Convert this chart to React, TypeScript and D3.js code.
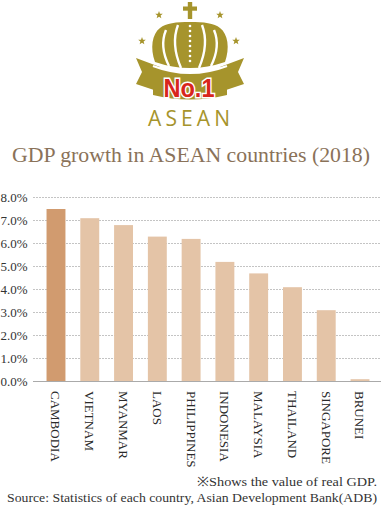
import React from "react";
import * as d3 from "d3";

const countries = ["CAMBODIA", "VIETNAM", "MYANMAR", "LAOS", "PHILIPPINES", "INDONESIA", "MALAYSIA", "THAILAND", "SINGAPORE", "BRUNEI"];
const growth = [7.5, 7.1, 6.8, 6.3, 6.2, 5.2, 4.7, 4.1, 3.1, 0.1];
const yTicks = [0, 1, 2, 3, 4, 5, 6, 7, 8];
const title = "GDP growth in ASEAN countries (2018)";
const note1 = "※Shows the value of real GDP.";
const note2 = "Source: Statistics of each country, Asian Development Bank(ADB)";

const GOLD = "#A6942C";
const SERIF = "'Liberation Serif', 'Times New Roman', serif";

function Star({ cx, cy, r }: { cx: number; cy: number; r: number }) {
  const pts: string[] = [];
  for (let i = 0; i < 10; i++) {
    const a = -Math.PI / 2 + (i * Math.PI) / 5;
    const rr = i % 2 === 0 ? r : r * 0.42;
    pts.push(`${cx + rr * Math.cos(a)},${cy + rr * Math.sin(a)}`);
  }
  return <polygon points={pts.join(" ")} fill={GOLD} />;
}

function Logo() {
  const cx = 190;
  const dots = d3.range(26, 64, 5);
  return (
    <g>
      {/* cross */}
      <rect x={cx - 2.2} y={2} width={4.4} height={17} fill={GOLD} />
      <rect x={cx - 7} y={6.5} width={14} height={4.2} fill={GOLD} />
      <Star cx={159} cy={15} r={4} />
      <Star cx={220} cy={15} r={4} />
      <Star cx={142} cy={41} r={4} />
      <Star cx={236} cy={41} r={4} />
      {/* ribbons */}
      <polygon points="136,58 160,67 160,92 136,84 142,72" fill={GOLD} />
      <polygon points="244,58 220,67 220,92 244,84 238,72" fill={GOLD} />
      {/* crown body */}
      <path
        d="M155,62 C150,48 152,34 160,28 C166,23 176,22 190,22 C204,22 214,23 220,28 C228,34 230,48 225,62 Q190,74 155,62 Z"
        fill={GOLD}
      />
      {/* lobe separators */}
      <path d="M166,30 C161,42 163,54 169,66" fill="none" stroke="#fff" strokeWidth={2.4} />
      <path d="M178,25 C173,38 175,54 181,68" fill="none" stroke="#fff" strokeWidth={2.4} />
      <path d="M214,30 C219,42 217,54 211,66" fill="none" stroke="#fff" strokeWidth={2.4} />
      <path d="M202,25 C207,38 205,54 199,68" fill="none" stroke="#fff" strokeWidth={2.4} />
      {dots.map((d) => (
        <circle key={d} cx={cx} cy={d} r={1.3} fill="#fff" />
      ))}
      {/* band */}
      <path d="M153,66 Q190,80 227,66 L227,95 Q190,104 153,95 Z" fill={GOLD} />
      <path d="M153,66 Q190,80 227,66" fill="none" stroke="#fff" strokeWidth={2.2} />
      <text
        x={189}
        y={97}
        textAnchor="middle"
        fontFamily="'Liberation Sans', Arial, sans-serif"
        fontWeight="bold"
        fontSize={26}
        fill="#D8261C"
        stroke="#fff"
        strokeWidth={3}
        paintOrder="stroke"
        textLength={51}
        lengthAdjust="spacingAndGlyphs"
      >
        No.1
      </text>
      <text
        x={189}
        y={126}
        textAnchor="middle"
        fontFamily="'Open Sans', 'Noto Sans', sans-serif"
        fontSize={21}
        fill={GOLD}
        textLength={82}
        lengthAdjust="spacing"
      >
        ASEAN
      </text>
    </g>
  );
}

export default function App() {
  const W = 381;
  const H = 508;
  const x = d3
    .scaleBand<string>()
    .domain(countries)
    .range([39.1, 376.9])
    .paddingInner(0.44)
    .paddingOuter(0.22);
  const y = d3.scaleLinear().domain([0, 8]).range([381.5, 197.5]);

  return (
    <svg
      width={W}
      height={H}
      style={{ position: "absolute", left: 0, top: 0 }}
      viewBox={`0 0 ${W} ${H}`}
    >
      <rect width={W} height={H} fill="#fff" />
      <Logo />
      <text
        x={191}
        y={162}
        textAnchor="middle"
        fontFamily={SERIF}
        fontSize={20}
        fill="#8A7259"
        textLength={358}
        lengthAdjust="spacingAndGlyphs"
      >
        {title}
      </text>
      {yTicks.map((t) => (
        <g key={t}>
          {t > 0 && (
            <line
              x1={33}
              x2={381}
              y1={y(t)}
              y2={y(t)}
              stroke="#c4c4c4"
              strokeWidth={1}
              strokeDasharray="2,1"
            />
          )}
          <text
            x={27.5}
            y={y(t)}
            dy="0.35em"
            textAnchor="end"
            fontFamily={SERIF}
            fontSize={13}
            fill="#333"
          >
            {d3.format(".1f")(t) + "%"}
          </text>
        </g>
      ))}
      {countries.map((c, i) => (
        <g key={c}>
          <rect
            x={x(c)!}
            y={y(growth[i])}
            width={x.bandwidth()}
            height={y(0) - y(growth[i])}
            fill={i === 0 ? "#D19B6F" : "#E4C4A7"}
          />
          <text
            transform={`translate(${x(c)! + x.bandwidth() / 2},391) rotate(90)`}
            dy="0.35em"
            textAnchor="start"
            fontFamily={SERIF}
            fontSize={13}
            fill="#2a2a2a"
          >
            {c}
          </text>
        </g>
      ))}
      <line x1={33} x2={381} y1={y(0)} y2={y(0)} stroke="#aaa" strokeWidth={1} />
      <text x={377} y={486} textAnchor="end" fontFamily={SERIF} fontSize={13} fill="#333" textLength={180} lengthAdjust="spacingAndGlyphs">
        {note1}
      </text>
      <text x={377} y={502} textAnchor="end" fontFamily={SERIF} fontSize={13} fill="#333" textLength={370} lengthAdjust="spacingAndGlyphs">
        {note2}
      </text>
    </svg>
  );
}
